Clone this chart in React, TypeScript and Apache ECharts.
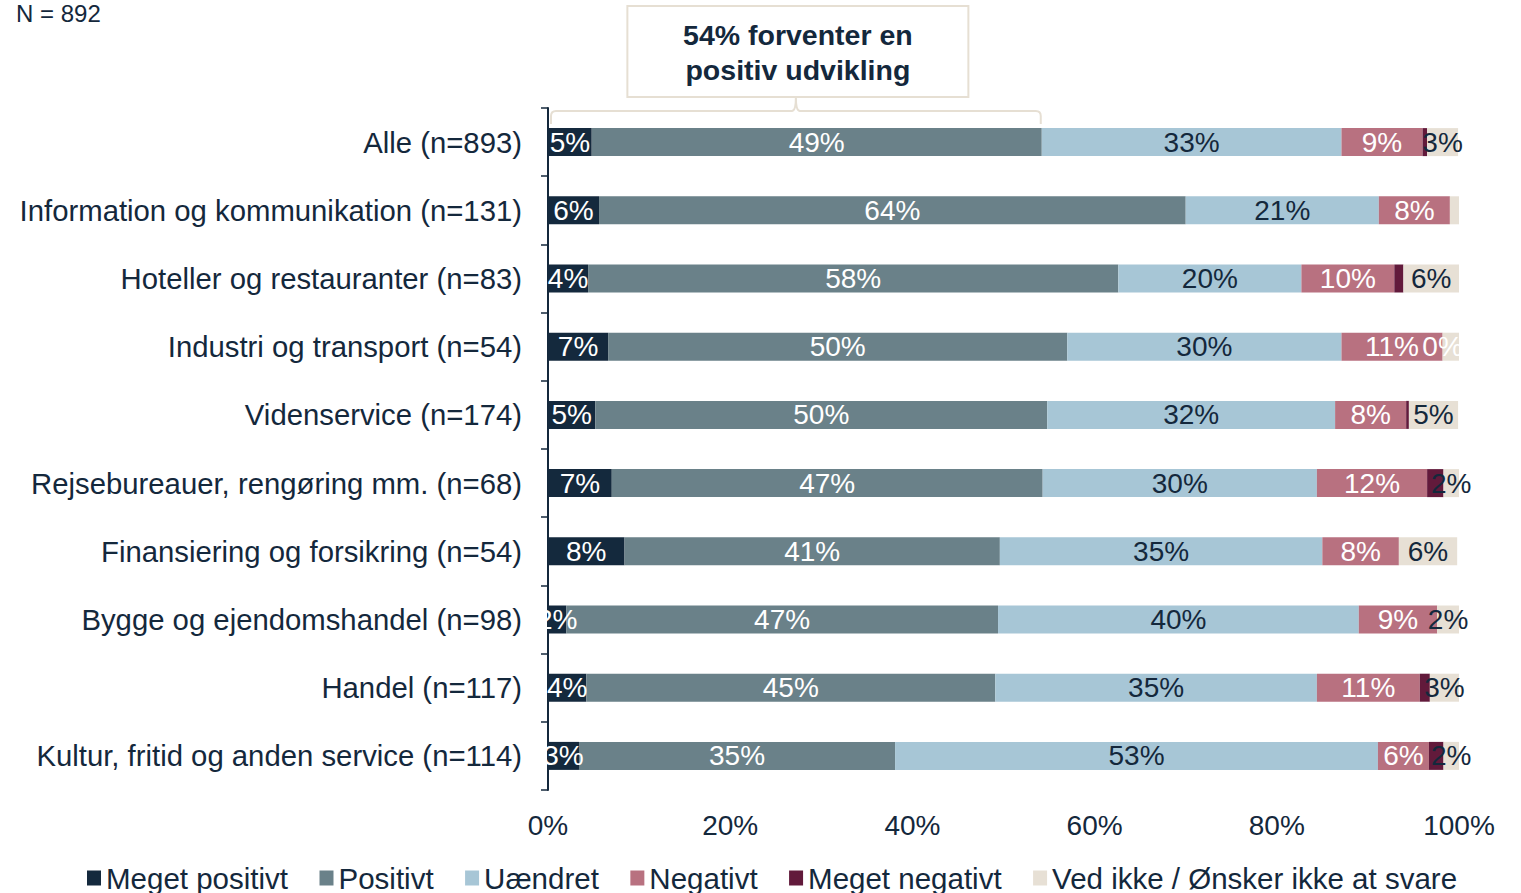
import React, { useEffect, useRef } from "react";
import * as echarts from "echarts";

const categories = [
  "Alle (n=893)",
  "Information og kommunikation (n=131)",
  "Hoteller og restauranter (n=83)",
  "Industri og transport (n=54)",
  "Videnservice (n=174)",
  "Rejsebureauer, rengøring mm. (n=68)",
  "Finansiering og forsikring (n=54)",
  "Bygge og ejendomshandel (n=98)",
  "Handel (n=117)",
  "Kultur, fritid og anden service (n=114)",
];

const seriesNames = [
  "Meget positivt",
  "Positivt",
  "Uændret",
  "Negativt",
  "Meget negativt",
  "Ved ikke / Ønsker ikke at svare",
];

const megetPositivt = [4.8, 5.6, 4.4, 6.6, 5.2, 7.0, 8.4, 2.0, 4.2, 3.4];
const positivt = [49.4, 64.4, 58.2, 50.4, 49.6, 47.3, 41.2, 47.4, 44.9, 34.7];
const uaendret = [32.9, 21.2, 20.1, 30.1, 31.6, 30.1, 35.4, 39.6, 35.3, 53.0];
const negativt = [8.9, 7.8, 10.2, 11.1, 7.8, 12.1, 8.4, 8.6, 11.3, 5.6];
const megetNegativt = [0.5, 0, 1.0, 0, 0.3, 1.8, 0, 0, 1.1, 1.6];
const vedIkke = [3.4, 1.1, 6.1, 1.8, 5.4, 1.8, 6.4, 2.4, 3.2, 1.8];

// which data labels are visible in the reference
const megetNegativtLabelShown = [false, false, false, true, false, false, false, false, false, false];
const vedIkkeLabelShown = [true, false, true, false, true, true, true, true, true, true];

const xTicks = [0, 20, 40, 60, 80, 100];

const annotationLines = ["54% forventer en", "positiv udvikling"];
const sampleNote = "N = 892";

const DARK = "#14283c";
const colors = ["#14293d", "#6a8189", "#a7c6d6", "#b87180", "#621a3b", "#e7e0d5"];
const labelColors = ["#ffffff", "#ffffff", DARK, "#ffffff", "#ffffff", DARK];
const FONT = "'Liberation Sans', Arial, sans-serif";
const BEIGE = "#e6dfd3";

export default function App() {
  const ref = useRef<HTMLDivElement>(null);

  useEffect(() => {
    if (!ref.current) return;
    const chart = echarts.init(ref.current, null, { renderer: "svg" });
    const allData = [megetPositivt, positivt, uaendret, negativt, megetNegativt, vedIkke];
    const shownArrays: (boolean[] | null)[] = [null, null, null, null, megetNegativtLabelShown, vedIkkeLabelShown];

    const series = seriesNames.map((name, si) => ({
      name,
      type: "bar",
      stack: "total",
      barWidth: 28,
      itemStyle: { color: colors[si] },
      label: {
        show: true,
        position: "inside",
        color: labelColors[si],
        fontSize: 28,
        fontFamily: FONT,
        formatter: (p: any) => Math.round(p.value) + "%",
      },
      data: allData[si].map((v, i) => {
        const shown = shownArrays[si];
        if (shown && !shown[i]) return { value: v, label: { show: false } };
        return v;
      }),
    }));

    const option: any = {
      animation: false,
      textStyle: { fontFamily: FONT },
      grid: { left: 548, right: 62, top: 108, bottom: 103 },
      xAxis: {
        type: "value",
        min: 0,
        max: 100,
        interval: 20,
        axisLine: { show: false },
        axisTick: { show: false },
        splitLine: { show: false },
        axisLabel: {
          formatter: (v: number) => (xTicks.includes(v) ? v + "%" : ""),
          fontSize: 28,
          color: DARK,
          fontFamily: FONT,
          margin: 21,
        },
      },
      yAxis: {
        type: "category",
        data: categories,
        inverse: true,
        axisLine: { show: true, lineStyle: { color: DARK, width: 2 } },
        axisTick: { show: true, length: 7, lineStyle: { color: DARK, width: 1.5 } },
        axisLabel: { fontSize: 29.3, color: DARK, fontFamily: FONT, margin: 26 },
      },
      legend: {
        data: seriesNames,
        left: 87,
        top: 863,
        icon: "rect",
        itemWidth: 14,
        itemHeight: 15,
        itemGap: 31.5,
        padding: 0,
        textStyle: { fontSize: 29.5, color: DARK, fontFamily: FONT, lineHeight: 30 },
      },
      series,
    };
    chart.setOption(option);

    // annotation positioned from the chart's own scales
    const x0 = chart.convertToPixel({ xAxisIndex: 0 }, 0) as number;
    const x1 = chart.convertToPixel({ xAxisIndex: 0 }, megetPositivt[0] + positivt[0]) as number;
    const yc = chart.convertToPixel({ yAxisIndex: 0 }, categories[0]) as number;
    const barTop = yc - 14;
    const xl = x0 + 3;
    const xr = x1 - 1;
    const xm = (xl + xr) / 2;
    const yb = barTop - 4;
    const yh = barTop - 17;
    const ypk = yh - 14;
    const d =
      `M${xl},${yb} L${xl},${yh + 5} Q${xl},${yh} ${xl + 5},${yh} ` +
      `L${xm - 4},${yh} Q${xm},${yh} ${xm},${ypk} Q${xm},${yh} ${xm + 4},${yh} ` +
      `L${xr - 5},${yh} Q${xr},${yh} ${xr},${yh + 5} L${xr},${yb}`;
    echarts.graphic.registerShape("brace", (echarts.graphic as any).extendPath(d, {}));

    const boxW = 341;
    const boxH = 91;
    const boxTop = ypk - boxH;
    const boxCx = xm + 2;
    chart.setOption({
      graphic: [
        {
          type: "text",
          left: 16,
          top: 1,
          style: { text: sampleNote, fontSize: 24, fill: DARK, fontFamily: FONT },
        },
        {
          type: "brace",
          x: 0,
          y: 0,
          style: { fill: "none", stroke: BEIGE, lineWidth: 2 },
        },
        {
          type: "rect",
          shape: { x: boxCx - boxW / 2, y: boxTop, width: boxW, height: boxH },
          style: { fill: "#ffffff", stroke: BEIGE, lineWidth: 2 },
        },
        ...annotationLines.map((t, i) => ({
          type: "text",
          x: boxCx,
          y: boxTop + 29 + i * 35,
          style: {
            text: t,
            fontSize: 28.5,
            fontWeight: "bold",
            fill: DARK,
            fontFamily: FONT,
            align: "center",
            verticalAlign: "middle",
          },
        })),
      ],
    });

    return () => chart.dispose();
  }, []);

  return (
    <div
      ref={ref}
      style={{ position: "fixed", left: 0, top: 0, width: 1521, height: 893, background: "#ffffff" }}
    />
  );
}
